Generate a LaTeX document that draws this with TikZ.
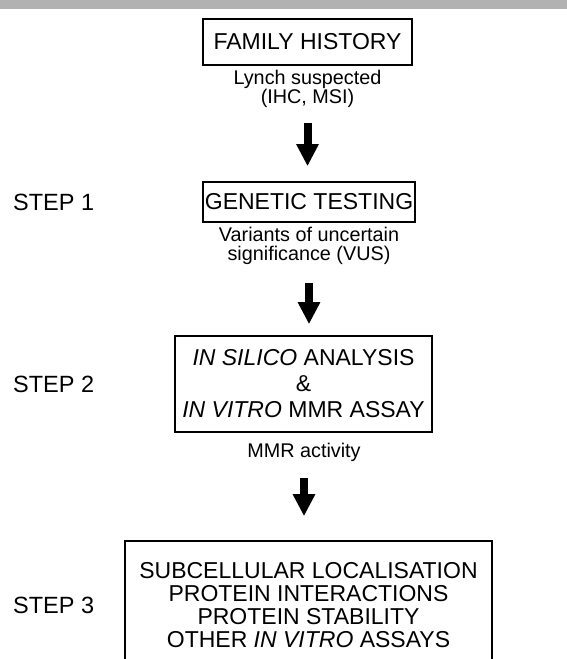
\documentclass[tikz,border=0pt]{standalone}
\usepackage{fontspec}
\setmainfont{Liberation Sans}
\usetikzlibrary{arrows.meta,positioning}

\begin{document}
\begin{tikzpicture}
%Steps of variant classification
	[
	 %Styles
	 x=1pt, y=-1pt,
	 box_node/.style={rectangle,draw=black,line width=1.6pt,inner sep=0pt,align=center,font=\fontsize{23}{26}\selectfont},
	 note_text/.style={rectangle,inner sep=0pt,align=center,font=\fontsize{19.8}{18.5}\selectfont},
	 step_label/.style={rectangle,anchor=west,inner sep=0pt,font=\fontsize{23.5}{26}\selectfont},
	 big_arrow/.style={line width=8pt,-{Triangle[width=21pt,length=22pt]}}
	]

	%Frame
	\useasboundingbox (0,0) rectangle (567,659);
	\clip (0,0) rectangle (567,659);
	\fill[black!30] (0,0) rectangle (567,9);

	%Node placement
	\node (history) [box_node,minimum width=209pt,minimum height=46pt] at (307.5,42) {FAMILY HISTORY};
	\node (lynch) [note_text] at (307.5,89) {Lynch suspected\\(IHC, MSI)};

	\node (step1) [step_label] at (13,202) {STEP 1};
	\node (testing) [box_node,minimum width=212pt,minimum height=40pt] at (309,202) {GENETIC TESTING};
	\node (vus) [note_text] at (309,246) {Variants of uncertain\\significance (VUS)};

	\node (step2) [step_label] at (13,384) {STEP 2};
	\node (silico) [box_node,minimum width=257pt,minimum height=96pt] at (303.5,384)
	  {\textit{IN SILICO} ANALYSIS\\\&\\\textit{IN VITRO} MMR ASSAY};
	\node (activity) [note_text] at (304,452) {MMR activity};

	\node (step3) [step_label] at (13,605) {STEP 3};
	\node (assays) [box_node,minimum width=367pt,minimum height=128pt,font=\fontsize{23}{23}\selectfont] at (308.5,605)
	  {SUBCELLULAR LOCALISATION\\PROTEIN INTERACTIONS\\PROTEIN STABILITY\\OTHER \textit{IN VITRO} ASSAYS};

	%Edges
	\draw[big_arrow,shorten <=15pt,shorten >=15pt] (lynch.south) -- (lynch.south |- testing.north);
	\draw[big_arrow,shorten <=18pt,shorten >=11pt] (vus.south) -- (vus.south |- silico.north);
	\draw[big_arrow,shorten <=17pt,shorten >=24pt] (activity.south) -- (activity.south |- assays.north);
\end{tikzpicture}
\end{document}
